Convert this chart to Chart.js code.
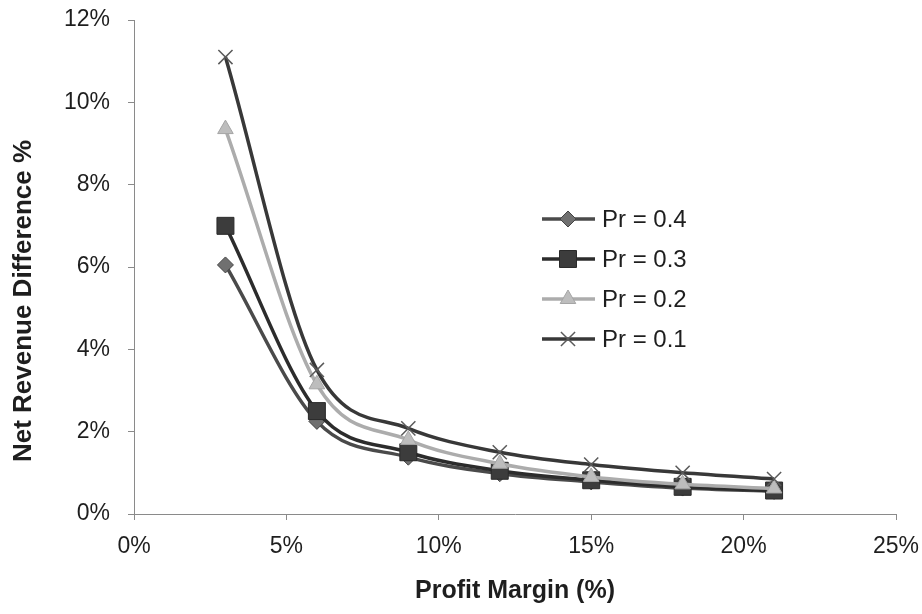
<!DOCTYPE html>
<html>
<head>
<meta charset="utf-8">
<script src="https://cdn.jsdelivr.net/npm/chart.js@4/dist/chart.umd.min.js"></script>
<style>
  html, body { margin: 0; padding: 0; background: #fff; }
  #wrap { width: 922px; height: 614px; position: relative; }
</style>
</head>
<body>
<div id="wrap"><canvas id="marginChart"></canvas></div>
<script>
    // Profit margin (%) on x, net revenue difference (%) on y
    const margins = [3, 6, 9, 12, 15, 18, 21];
    const pr04 = [6.05, 2.25, 1.38, 0.98, 0.78, 0.63, 0.55];
    const pr03 = [7.0, 2.5, 1.5, 1.05, 0.82, 0.66, 0.57];
    const pr02 = [9.35, 3.15, 1.8, 1.22, 0.9, 0.72, 0.62];
    const pr01 = [11.1, 3.5, 2.08, 1.5, 1.2, 1.0, 0.85];
    const seriesNames = ['Pr = 0.4', 'Pr = 0.3', 'Pr = 0.2', 'Pr = 0.1'];
    const xTicks = [0, 5, 10, 15, 20, 25];
    const yTicks = [0, 2, 4, 6, 8, 10, 12];

    function pts(vals) {
      return margins.map((m, i) => ({ x: m, y: vals[i] }));
    }

    const FONT = "'Liberation Sans', Arial, sans-serif";

    // legend drawn inside the plot, line + marker + label
    const insideLegend = {
      id: 'insideLegend',
      afterDraw(chart) {
        const ctx = chart.ctx;
        const rows = [219, 259, 299, 339];
        chart.data.datasets.forEach((ds, i) => {
          const y = rows[i];
          ctx.save();
          ctx.strokeStyle = ds.borderColor;
          ctx.lineWidth = ds.borderWidth;
          ctx.beginPath();
          ctx.moveTo(542, y);
          ctx.lineTo(595, y);
          ctx.stroke();
          ctx.fillStyle = ds.pointBackgroundColor;
          ctx.strokeStyle = ds.pointBorderColor;
          ctx.lineWidth = ds.pointBorderWidth;
          Chart.helpers.drawPoint(ctx, {
            pointStyle: ds.pointStyle,
            radius: ds.pointRadius,
            rotation: 0,
            borderWidth: ds.pointBorderWidth
          }, 568, y);
          ctx.fillStyle = '#1e1e1e';
          ctx.font = '24px ' + FONT;
          ctx.textAlign = 'left';
          ctx.textBaseline = 'middle';
          ctx.fillText(ds.label, 602, y + 1);
          ctx.restore();
        });

        // y axis title, rotated
        ctx.save();
        ctx.translate(24, 301);
        ctx.rotate(-Math.PI / 2);
        ctx.fillStyle = '#1e1e1e';
        ctx.font = 'bold 26px ' + FONT;
        ctx.textAlign = 'center';
        ctx.textBaseline = 'middle';
        ctx.fillText('Net Revenue Difference %', 0, 0);
        ctx.restore();
      }
    };

    const ctx = document.getElementById('marginChart').getContext('2d');
    new Chart(ctx, {
      type: 'line',
      data: {
        datasets: [{
          label: seriesNames[0],
          data: pts(pr04),
          borderColor: '#4a4a4a',
          borderWidth: 3.5,
          pointStyle: 'rectRot',
          pointRadius: 8,
          pointBackgroundColor: '#707070',
          pointBorderColor: '#444',
          pointBorderWidth: 1,
          order: 3
        }, {
          label: seriesNames[1],
          data: pts(pr03),
          borderColor: '#2c2c2c',
          borderWidth: 3.5,
          pointStyle: 'rect',
          pointRadius: 12,
          pointBackgroundColor: '#3c3c3c',
          pointBorderColor: '#2a2a2a',
          pointBorderWidth: 1,
          order: 2
        }, {
          label: seriesNames[2],
          data: pts(pr02),
          borderColor: '#acacac',
          borderWidth: 3.5,
          pointStyle: 'triangle',
          pointRadius: 9,
          pointBackgroundColor: '#bdbdbd',
          pointBorderColor: '#a5a5a5',
          pointBorderWidth: 1,
          order: 1
        }, {
          label: seriesNames[3],
          data: pts(pr01),
          borderColor: '#383838',
          borderWidth: 3.5,
          pointStyle: 'crossRot',
          pointRadius: 10,
          pointBackgroundColor: '#5a5a5a',
          pointBorderColor: '#5a5a5a',
          pointBorderWidth: 1.5,
          order: 0
        }]
      },
      options: {
        responsive: true,
        maintainAspectRatio: false,
        animation: false,
        cubicInterpolationMode: 'monotone',
        layout: {
          padding: { top: 20, right: 26, bottom: 0, left: 0 }
        },
        plugins: {
          legend: { display: false },
          tooltip: { enabled: false }
        },
        scales: {
          x: {
            type: 'linear',
            min: 0,
            max: 25,
            afterBuildTicks(scale) { scale.ticks = xTicks.map(v => ({ value: v })); },
            afterFit(scale) {
              scale.height = 100;
              scale.paddingLeft = 0;
              scale.paddingRight = 0;
            },
            ticks: {
              color: '#1e1e1e',
              font: { family: FONT, size: 23 },
              padding: 13,
              callback: v => v + '%'
            },
            grid: { drawOnChartArea: false, drawTicks: true, tickLength: 6, color: '#8a8a8a' },
            border: { display: true, color: '#8a8a8a', width: 1, dash: [1, 2] },
            title: {
              display: true,
              text: 'Profit Margin (%)',
              color: '#1e1e1e',
              font: { family: FONT, size: 25, weight: 'bold' },
              padding: { top: 0, bottom: 8 }
            }
          },
          y: {
            min: 0,
            max: 12,
            afterBuildTicks(scale) { scale.ticks = yTicks.map(v => ({ value: v })); },
            afterFit(scale) {
              scale.width = 134;
              scale.paddingTop = 0;
              scale.paddingBottom = 0;
            },
            ticks: {
              color: '#1e1e1e',
              font: { family: FONT, size: 23 },
              padding: 18,
              callback: v => v + '%'
            },
            grid: { drawOnChartArea: false, drawTicks: true, tickLength: 6, color: '#8a8a8a' },
            border: { display: true, color: '#8a8a8a', width: 1, dash: [1, 2] }
          }
        }
      },
      plugins: [insideLegend]
    });
</script>
</body>
</html>
